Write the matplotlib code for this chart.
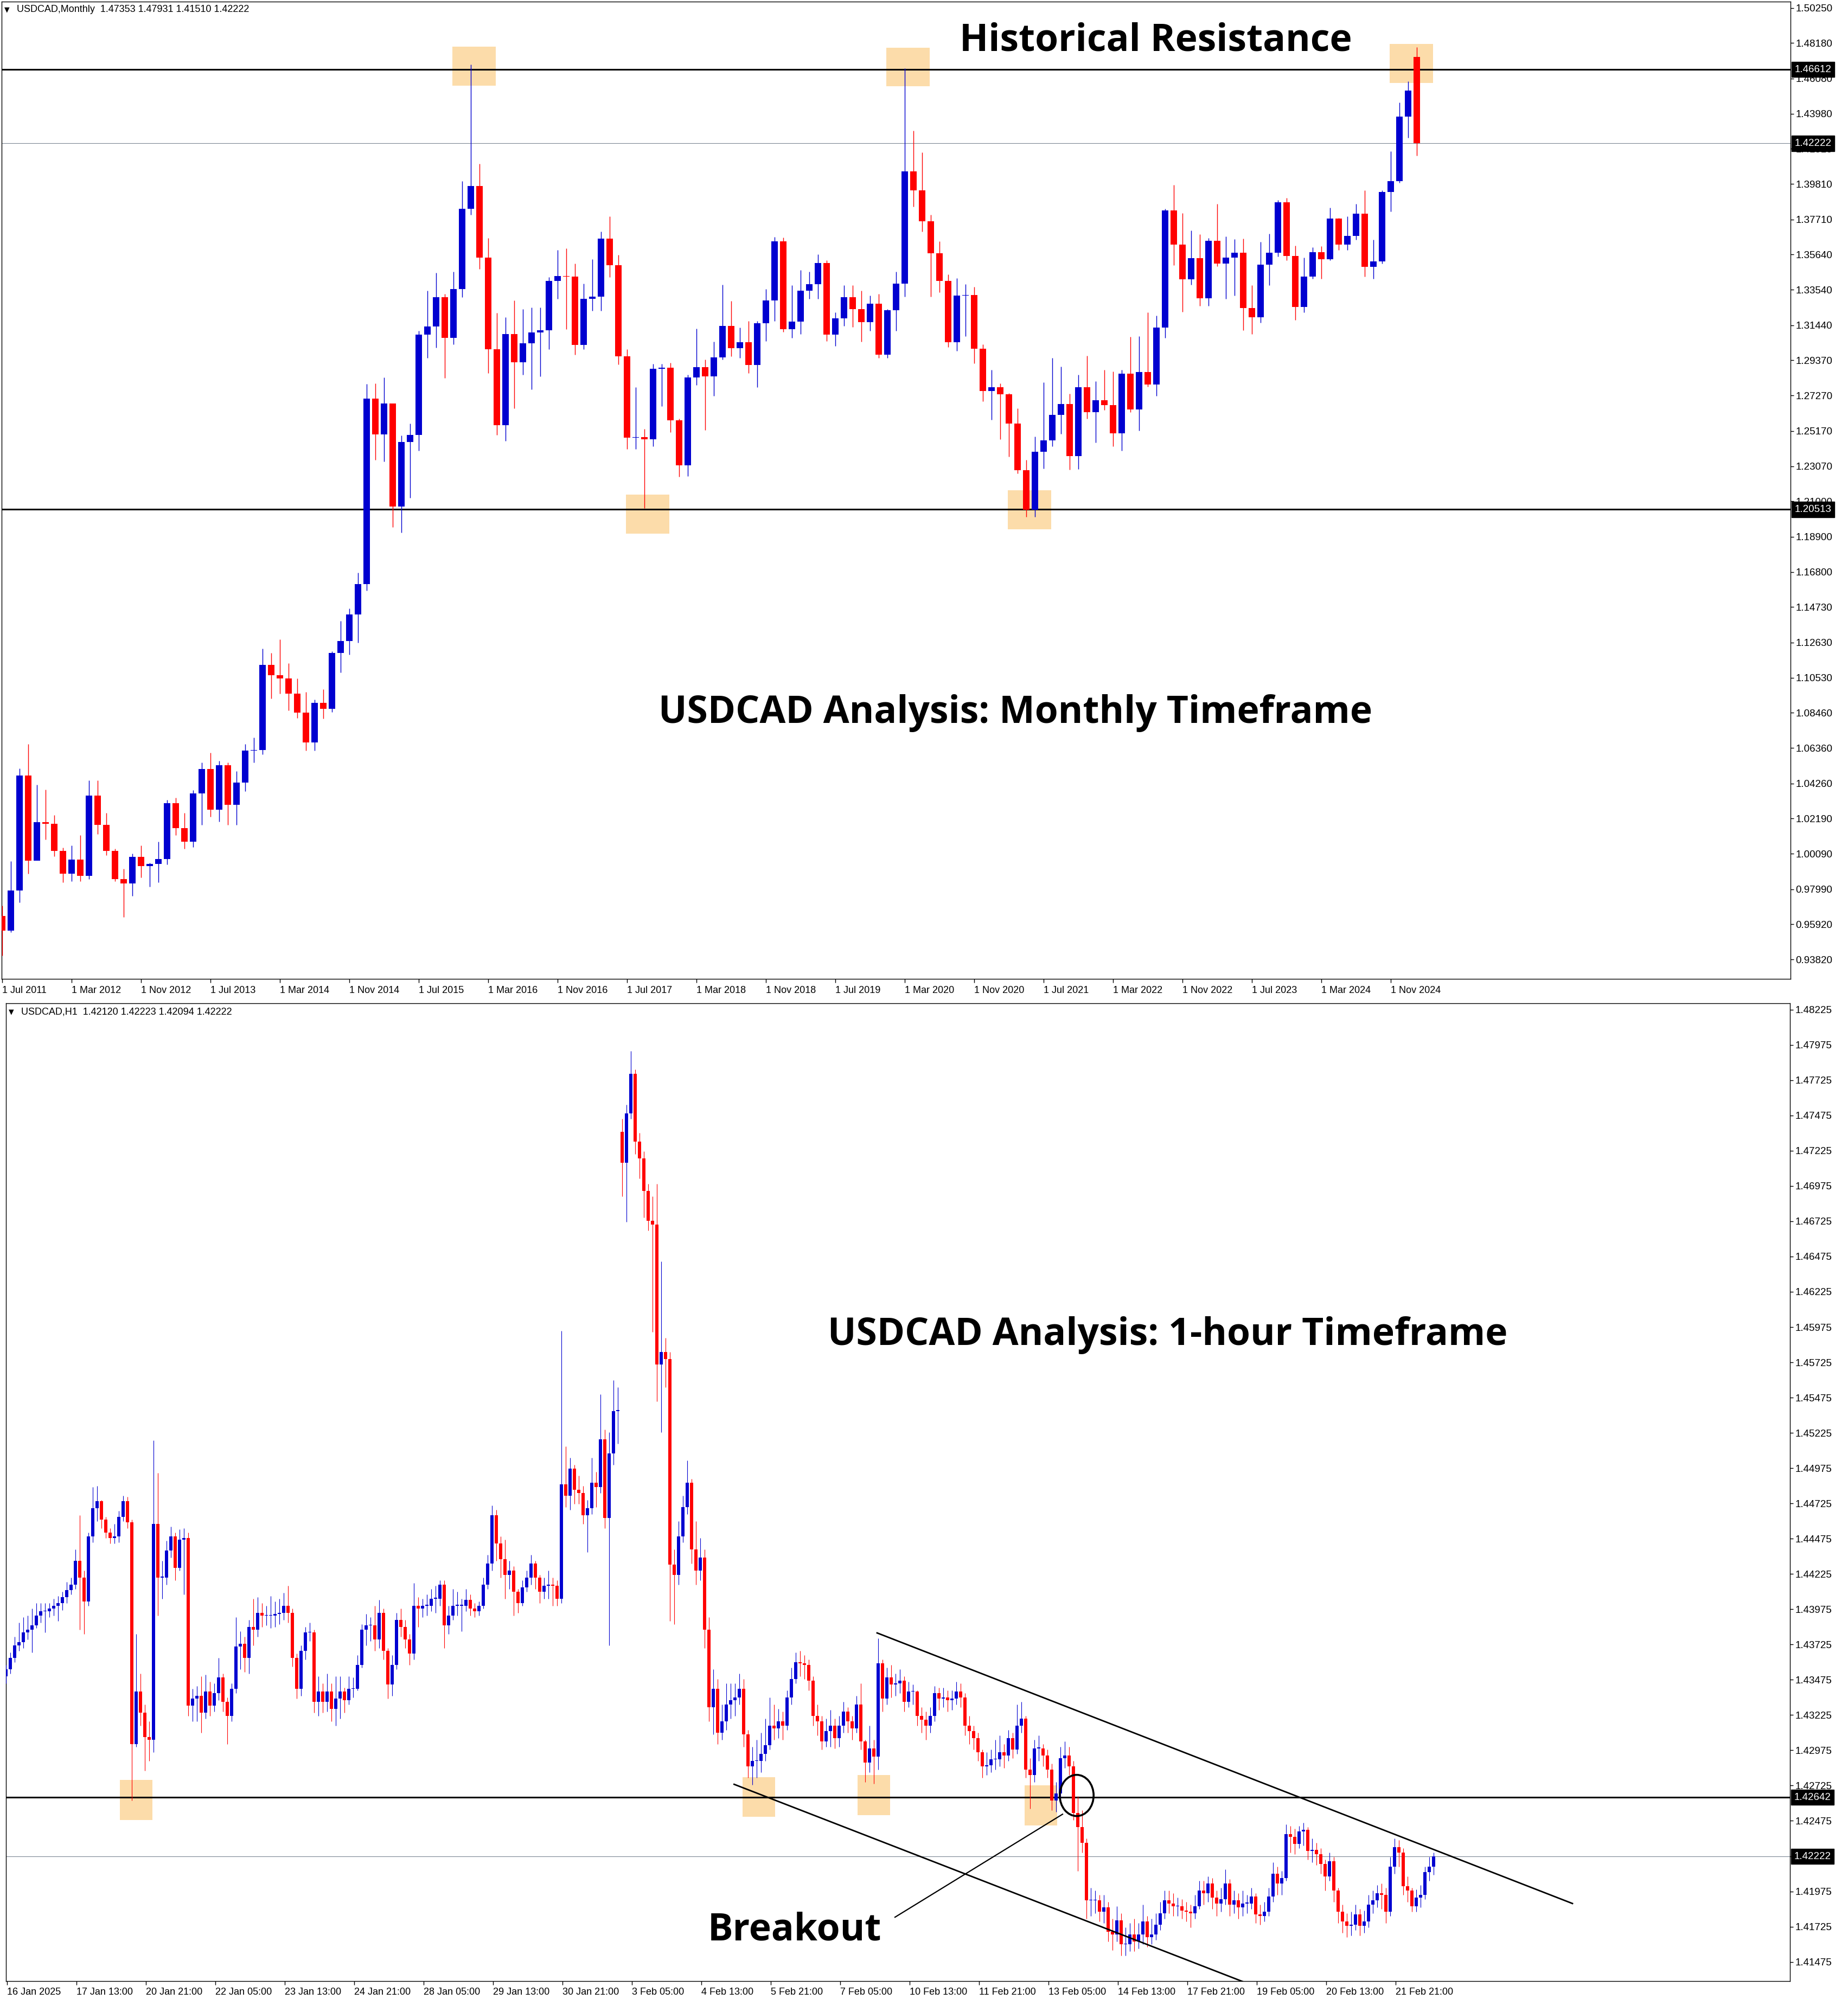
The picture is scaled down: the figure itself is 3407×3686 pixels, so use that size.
import numpy as np
import matplotlib
matplotlib.use('Agg')
import matplotlib.pyplot as plt
from matplotlib.patches import Rectangle, Ellipse

plt.rcParams['font.family'] = ['Liberation Sans', 'DejaVu Sans']

# ---------------- monthly USDCAD, Jul 2011 .. Feb 2025 ----------------
monthly_first_open = 0.9640
monthly_close = [
    0.9555, 0.9792, 1.0473, 0.9970, 1.0198, 1.0186, 1.0025, 0.9890, 0.9975, 0.9878,
    1.0355, 1.0180, 1.0025, 0.9860, 0.9832, 0.9990, 0.9935, 0.9950, 0.9978, 1.0310,
    1.0160, 1.0080, 1.0366, 1.0513, 1.0270, 1.0535, 1.0300, 1.0430, 1.0620, 1.0625,
    1.1130, 1.1070, 1.1050, 1.0960, 1.0845, 1.0670, 1.0905, 1.0870, 1.1200, 1.1270,
    1.1430, 1.1610, 1.2710, 1.2498, 1.2679, 1.2068, 1.2451, 1.2492, 1.3089, 1.3138,
    1.3309, 1.3069, 1.3358, 1.3834, 1.3969, 1.3545, 1.3001, 1.2550, 1.3091, 1.2923,
    1.3036, 1.3100, 1.3114, 1.3407, 1.3436, 1.3431, 1.3026, 1.3301, 1.3315, 1.3657,
    1.3500, 1.2960, 1.2476, 1.2482, 1.2468, 1.2886, 1.2892, 1.2581, 1.2314, 1.2833,
    1.2895, 1.2841, 1.2954, 1.3139, 1.3007, 1.3042, 1.2909, 1.3155, 1.3290, 1.3643,
    1.3122, 1.3167, 1.3350, 1.3387, 1.3514, 1.3087, 1.3186, 1.3309, 1.3241, 1.3161,
    1.3272, 1.2970, 1.3233, 1.3391, 1.4058, 1.3943, 1.3760, 1.3571, 1.3407, 1.3044,
    1.3319, 1.3323, 1.3005, 1.2755, 1.2775, 1.2734, 1.2560, 1.2283, 1.2051, 1.2394,
    1.2462, 1.2611, 1.2677, 1.2369, 1.2775, 1.2628, 1.2700, 1.2669, 1.2503, 1.2858,
    1.2646, 1.2868, 1.2792, 1.3130, 1.3826, 1.3621, 1.3415, 1.3541, 1.3305, 1.3645,
    1.3510, 1.3545, 1.3573, 1.3247, 1.3190, 1.3504, 1.3573, 1.3873, 1.3555, 1.3253,
    1.3432, 1.3576, 1.3534, 1.3777, 1.3623, 1.3674, 1.3805, 1.3489, 1.3522, 1.3934,
    1.4000, 1.4380, 1.4535, 1.42222]
monthly_high = [
    0.9700, 0.9965, 1.0515, 1.0660, 1.0420, 1.0390, 1.0240, 1.0045, 1.0060, 1.0120,
    1.0445, 1.0445, 1.0250, 1.0040, 0.9920, 1.0010, 1.0060, 0.9955, 1.0080, 1.0330,
    1.0340, 1.0250, 1.0385, 1.0550, 1.0610, 1.0560, 1.0550, 1.0500, 1.0660, 1.0700,
    1.1225, 1.1200, 1.1280, 1.1140, 1.1050, 1.0970, 1.0925, 1.0985, 1.1210, 1.1390,
    1.1465, 1.1675, 1.2795, 1.2800, 1.2835, 1.2680, 1.2490, 1.2560, 1.3110, 1.3350,
    1.3455, 1.3330, 1.3460, 1.3999, 1.4689, 1.4100, 1.3660, 1.3216, 1.3190, 1.3290,
    1.3240, 1.3250, 1.3250, 1.3430, 1.3590, 1.3600, 1.3510, 1.3390, 1.3534, 1.3700,
    1.3791, 1.3560, 1.3000, 1.2775, 1.2529, 1.2915, 1.2915, 1.2920, 1.2590, 1.2850,
    1.3124, 1.2940, 1.3046, 1.3385, 1.3288, 1.3130, 1.3170, 1.3170, 1.3360, 1.3666,
    1.3665, 1.3380, 1.3470, 1.3462, 1.3565, 1.3530, 1.3220, 1.3381, 1.3380, 1.3350,
    1.3320, 1.3330, 1.3240, 1.3463, 1.4667, 1.4298, 1.4170, 1.3800, 1.3643, 1.3446,
    1.3422, 1.3387, 1.3370, 1.3030, 1.2878, 1.2800, 1.2740, 1.2652, 1.2345, 1.2484,
    1.2806, 1.2950, 1.2899, 1.2738, 1.2850, 1.2964, 1.2812, 1.2880, 1.2870, 1.2880,
    1.3077, 1.3080, 1.3221, 1.3200, 1.3836, 1.3975, 1.3810, 1.3705, 1.3685, 1.3660,
    1.3863, 1.3670, 1.3655, 1.3658, 1.3381, 1.3637, 1.3688, 1.3887, 1.3898, 1.3617,
    1.3545, 1.3606, 1.3612, 1.3842, 1.3780, 1.3790, 1.3863, 1.3945, 1.3650, 1.3945,
    1.4176, 1.4466, 1.4591, 1.47931]
monthly_low = [
    0.9406, 0.9545, 0.9720, 0.9890, 0.9995, 1.0095, 0.9995, 0.9840, 0.9845, 0.9845,
    0.9860, 1.0125, 1.0000, 0.9845, 0.9635, 0.9760, 0.9870, 0.9815, 0.9840, 0.9945,
    1.0120, 1.0040, 1.0050, 1.0180, 1.0230, 1.0200, 1.0180, 1.0180, 1.0380, 1.0550,
    1.0600, 1.0930, 1.0960, 1.0860, 1.0815, 1.0620, 1.0620, 1.0810, 1.0850, 1.1085,
    1.1190, 1.1260, 1.1570, 1.2345, 1.2335, 1.1945, 1.1914, 1.2119, 1.2400, 1.2950,
    1.3011, 1.2831, 1.3030, 1.3310, 1.3800, 1.3477, 1.2860, 1.2492, 1.2458, 1.2652,
    1.2850, 1.2765, 1.2840, 1.3000, 1.3300, 1.3120, 1.2970, 1.3000, 1.3230, 1.3230,
    1.3430, 1.2910, 1.2410, 1.2410, 1.2058, 1.2427, 1.2663, 1.2509, 1.2246, 1.2250,
    1.2790, 1.2523, 1.2724, 1.2940, 1.2960, 1.2950, 1.2860, 1.2775, 1.3050, 1.3170,
    1.3105, 1.3070, 1.3090, 1.3300, 1.3300, 1.3050, 1.3020, 1.3140, 1.3135, 1.3045,
    1.3110, 1.2950, 1.2950, 1.3110, 1.3313, 1.3846, 1.3700, 1.3313, 1.3340, 1.3015,
    1.2991, 1.3079, 1.2919, 1.2693, 1.2585, 1.2468, 1.2365, 1.2265, 1.2007, 1.2007,
    1.2295, 1.2425, 1.2500, 1.2287, 1.2290, 1.2590, 1.2447, 1.2640, 1.2427, 1.2400,
    1.2630, 1.2519, 1.2780, 1.2724, 1.3070, 1.3500, 1.3223, 1.3385, 1.3260, 1.3260,
    1.3495, 1.3300, 1.3320, 1.3114, 1.3093, 1.3160, 1.3380, 1.3550, 1.3530, 1.3175,
    1.3220, 1.3420, 1.3420, 1.3530, 1.3590, 1.3590, 1.3650, 1.3432, 1.3420, 1.3510,
    1.3820, 1.3990, 1.4256, 1.41510]
monthly_gap_index = [163]
monthly_gap_open = [1.47353]
monthly_tick_labels = ['1 Jul 2011', '1 Mar 2012', '1 Nov 2012', '1 Jul 2013', '1 Mar 2014',
                       '1 Nov 2014', '1 Jul 2015', '1 Mar 2016', '1 Nov 2016', '1 Jul 2017',
                       '1 Mar 2018', '1 Nov 2018', '1 Jul 2019', '1 Mar 2020', '1 Nov 2020',
                       '1 Jul 2021', '1 Mar 2022', '1 Nov 2022', '1 Jul 2023', '1 Mar 2024',
                       '1 Nov 2024']
monthly_price_ticks = [1.50250, 1.48180, 1.46080, 1.43980, 1.41910, 1.39810, 1.37710,
                       1.35640, 1.33540, 1.31440, 1.29370, 1.27270, 1.25170, 1.23070,
                       1.21000, 1.18900, 1.16800, 1.14730, 1.12630, 1.10530, 1.08460,
                       1.06360, 1.04260, 1.02190, 1.00090, 0.97990, 0.95920, 0.93820]

# ---------------- USDCAD H1 (read as 2-hour bars), 16 Jan .. 24 Feb 2025 ----------------
h1_first_open = 1.4350
h1_close = [
    1.4355, 1.4363, 1.4372, 1.4374, 1.4381, 1.4383, 1.4386, 1.4393, 1.4396, 1.4396,
    1.4398, 1.4400, 1.4402, 1.4406, 1.4411, 1.4415, 1.4432, 1.4420, 1.4403, 1.4449,
    1.4469, 1.4474, 1.4461, 1.4452, 1.4448, 1.4449, 1.4463, 1.4474, 1.4459, 1.4302,
    1.4339, 1.4324, 1.4307, 1.4305, 1.4458, 1.4420, 1.4420, 1.4439, 1.4449, 1.4427,
    1.4447, 1.4448, 1.4329, 1.4334, 1.4336, 1.4324, 1.4339, 1.4329, 1.4338, 1.4349,
    1.4332, 1.4322, 1.4341, 1.4371, 1.4373, 1.4363, 1.4385, 1.4383, 1.4395, 1.4393,
    1.4393, 1.4393, 1.4394, 1.4395, 1.4400, 1.4395, 1.4363, 1.4341, 1.4368, 1.4381,
    1.4381, 1.4332, 1.4339, 1.4332, 1.4339, 1.4327, 1.4334, 1.4339, 1.4333, 1.4341,
    1.4341, 1.4358, 1.4383, 1.4386, 1.4386, 1.4376, 1.4395, 1.4368, 1.4344, 1.4358,
    1.4390, 1.4385, 1.4376, 1.4366, 1.4400, 1.4398, 1.4400, 1.4400, 1.4405, 1.4405,
    1.4415, 1.4386, 1.4393, 1.4400, 1.4400, 1.4400, 1.4404, 1.4398, 1.4396, 1.4400,
    1.4415, 1.4430, 1.4464, 1.4444, 1.4433, 1.4422, 1.4425, 1.4410, 1.4402, 1.4413,
    1.4420, 1.4430, 1.4420, 1.4410, 1.4414, 1.4415, 1.4414, 1.4405, 1.4486, 1.4478,
    1.4497, 1.4482, 1.4480, 1.4464, 1.4469, 1.4487, 1.4484, 1.4518, 1.4462, 1.4508,
    1.4538, 1.4538, 1.4714, 1.4749, 1.4777, 1.4729, 1.4717, 1.4694, 1.4673, 1.4670,
    1.4571, 1.4580, 1.4575, 1.4429, 1.4422, 1.4449, 1.4470, 1.4487, 1.4440, 1.4425,
    1.4434, 1.4383, 1.4328, 1.4341, 1.4310, 1.4318, 1.4330, 1.4333, 1.4335, 1.4341,
    1.4309, 1.4286, 1.4290, 1.4290, 1.4295, 1.4301, 1.4315, 1.4313, 1.4318, 1.4315,
    1.4335, 1.4348, 1.4360, 1.4359, 1.4358, 1.4347, 1.4322, 1.4318, 1.4304, 1.4311,
    1.4315, 1.4306, 1.4315, 1.4325, 1.4318, 1.4313, 1.4330, 1.4304, 1.4289, 1.4299,
    1.4293, 1.4359, 1.4334, 1.4349, 1.4344, 1.4345, 1.4347, 1.4332, 1.4339, 1.4339,
    1.4322, 1.4319, 1.4315, 1.4322, 1.4338, 1.4334, 1.4335, 1.4333, 1.4334, 1.4339,
    1.4335, 1.4315, 1.4311, 1.4306, 1.4296, 1.4286, 1.4287, 1.4291, 1.4291, 1.4296,
    1.4294, 1.4306, 1.4298, 1.4315, 1.4320, 1.4284, 1.4280, 1.4299, 1.4299, 1.4294,
    1.4284, 1.4262, 1.4267, 1.4292, 1.4294, 1.4286, 1.4253, 1.4243, 1.4232, 1.4191,
    1.4191, 1.4191, 1.4183, 1.4186, 1.4169, 1.4167, 1.4177, 1.4160, 1.4160, 1.4167,
    1.4162, 1.4167, 1.4176, 1.4165, 1.4167, 1.4174, 1.4182, 1.4191, 1.4189, 1.4187,
    1.4187, 1.4184, 1.4183, 1.4182, 1.4187, 1.4198, 1.4196, 1.4203, 1.4193, 1.4189,
    1.4192, 1.4203, 1.4188, 1.4191, 1.4186, 1.4189, 1.4189, 1.4194, 1.4181, 1.4180,
    1.4183, 1.4194, 1.4210, 1.4203, 1.4207, 1.4238, 1.4236, 1.4231, 1.4240, 1.4241,
    1.4226, 1.4227, 1.4224, 1.4217, 1.4208, 1.4219, 1.4198, 1.4183, 1.4176, 1.4173,
    1.4174, 1.4181, 1.4173, 1.4176, 1.4188, 1.4191, 1.4196, 1.4195, 1.4183, 1.4215,
    1.4229, 1.4225, 1.4201, 1.4198, 1.4187, 1.4193, 1.4195, 1.4211, 1.4215, 1.42222]
h1_high = [
    1.4358, 1.4367, 1.4378, 1.4388, 1.4392, 1.4393, 1.4398, 1.4402, 1.4402, 1.4402,
    1.4402, 1.4405, 1.4407, 1.4410, 1.4417, 1.4420, 1.4440, 1.4464, 1.4425, 1.4452,
    1.4484, 1.4485, 1.4475, 1.4463, 1.4455, 1.4458, 1.4467, 1.4478, 1.4477, 1.4461,
    1.4380, 1.4352, 1.4330, 1.4318, 1.4517, 1.4494, 1.4432, 1.4446, 1.4456, 1.4452,
    1.4454, 1.4455, 1.4452, 1.4341, 1.4343, 1.4350, 1.4351, 1.4346, 1.4345, 1.4363,
    1.4352, 1.4335, 1.4345, 1.4392, 1.4382, 1.4378, 1.4390, 1.4405, 1.4406, 1.4402,
    1.4400, 1.4407, 1.4403, 1.4405, 1.4409, 1.4414, 1.4398, 1.4366, 1.4372, 1.4385,
    1.4388, 1.4383, 1.4350, 1.4345, 1.4352, 1.4345, 1.4350, 1.4350, 1.4342, 1.4350,
    1.4349, 1.4365, 1.4387, 1.4394, 1.4392, 1.4400, 1.4404, 1.4398, 1.4370, 1.4365,
    1.4395, 1.4398, 1.4390, 1.4380, 1.4416, 1.4406, 1.4405, 1.4408, 1.4412, 1.4414,
    1.4418, 1.4418, 1.4400, 1.4412, 1.4410, 1.4405, 1.4412, 1.4408, 1.4402, 1.4403,
    1.4420, 1.4436, 1.4471, 1.4468, 1.4449, 1.4447, 1.4432, 1.4428, 1.4412, 1.4418,
    1.4425, 1.4436, 1.4432, 1.4422, 1.4420, 1.4425, 1.4420, 1.4418, 1.4595, 1.4513,
    1.4505, 1.4500, 1.4492, 1.4485, 1.4475, 1.4505, 1.4495, 1.4550, 1.4525, 1.4523,
    1.4560, 1.4555, 1.4745, 1.4755, 1.4793, 1.4780, 1.4735, 1.4722, 1.4699, 1.4690,
    1.4699, 1.4644, 1.4590, 1.4580, 1.4440, 1.4460, 1.4478, 1.4503, 1.4490, 1.4460,
    1.4448, 1.4440, 1.4392, 1.4355, 1.4348, 1.4330, 1.4345, 1.4345, 1.4345, 1.4352,
    1.4348, 1.4312, 1.4300, 1.4305, 1.4310, 1.4320, 1.4335, 1.4330, 1.4327, 1.4325,
    1.4340, 1.4356, 1.4367, 1.4368, 1.4365, 1.4362, 1.4350, 1.4330, 1.4322, 1.4320,
    1.4326, 1.4320, 1.4322, 1.4332, 1.4328, 1.4322, 1.4336, 1.4345, 1.4305, 1.4315,
    1.4305, 1.4377, 1.4362, 1.4356, 1.4358, 1.4352, 1.4355, 1.4350, 1.4346, 1.4344,
    1.4340, 1.4328, 1.4325, 1.4328, 1.4343, 1.4342, 1.4342, 1.4340, 1.4340, 1.4346,
    1.4345, 1.4338, 1.4322, 1.4315, 1.4310, 1.4298, 1.4296, 1.4298, 1.4305, 1.4308,
    1.4302, 1.4312, 1.4310, 1.4330, 1.4332, 1.4322, 1.4292, 1.4305, 1.4308, 1.4302,
    1.4298, 1.4288, 1.4275, 1.4300, 1.4304, 1.4300, 1.4290, 1.4265, 1.4255, 1.4235,
    1.4200, 1.4198, 1.4195, 1.4195, 1.4190, 1.4178, 1.4187, 1.4182, 1.4172, 1.4175,
    1.4178, 1.4175, 1.4188, 1.4180, 1.4178, 1.4182, 1.4190, 1.4198, 1.4198, 1.4196,
    1.4193, 1.4192, 1.4190, 1.4188, 1.4195, 1.4205, 1.4205, 1.4208, 1.4207, 1.4198,
    1.4200, 1.4213, 1.4206, 1.4198, 1.4196, 1.4198, 1.4195, 1.4200, 1.4196, 1.4188,
    1.4190, 1.4200, 1.4218, 1.4215, 1.4212, 1.4245, 1.4244, 1.4242, 1.4244, 1.4246,
    1.4243, 1.4235, 1.4232, 1.4228, 1.4220, 1.4225, 1.4222, 1.4200, 1.4188, 1.4182,
    1.4183, 1.4188, 1.4185, 1.4184, 1.4195, 1.4198, 1.4202, 1.4203, 1.4200, 1.4222,
    1.4235, 1.4234, 1.4228, 1.4208, 1.4200, 1.4199, 1.4202, 1.4215, 1.4222, 1.42251]
h1_low = [
    1.4345, 1.4352, 1.4360, 1.4368, 1.4370, 1.4376, 1.4367, 1.4384, 1.4388, 1.4381,
    1.4392, 1.4393, 1.4389, 1.4397, 1.4402, 1.4408, 1.4412, 1.4383, 1.4380, 1.4400,
    1.4445, 1.4460, 1.4455, 1.4448, 1.4444, 1.4444, 1.4445, 1.4460, 1.4455, 1.4262,
    1.4300, 1.4315, 1.4283, 1.4290, 1.4296, 1.4393, 1.4405, 1.4415, 1.4434, 1.4418,
    1.4425, 1.4408, 1.4322, 1.4318, 1.4318, 1.4310, 1.4320, 1.4322, 1.4325, 1.4333,
    1.4325, 1.4302, 1.4318, 1.4338, 1.4355, 1.4353, 1.4352, 1.4372, 1.4378, 1.4385,
    1.4386, 1.4384, 1.4385, 1.4387, 1.4390, 1.4388, 1.4357, 1.4334, 1.4336, 1.4362,
    1.4375, 1.4324, 1.4322, 1.4324, 1.4325, 1.4318, 1.4315, 1.4320, 1.4324, 1.4330,
    1.4335, 1.4340, 1.4356, 1.4372, 1.4375, 1.4368, 1.4370, 1.4362, 1.4334, 1.4336,
    1.4355, 1.4378, 1.4370, 1.4358, 1.4362, 1.4385, 1.4392, 1.4393, 1.4396, 1.4395,
    1.4400, 1.4370, 1.4380, 1.4390, 1.4393, 1.4382, 1.4396, 1.4393, 1.4392, 1.4393,
    1.4398, 1.4412, 1.4425, 1.4432, 1.4420, 1.4405, 1.4412, 1.4393, 1.4395, 1.4400,
    1.4410, 1.4415, 1.4412, 1.4402, 1.4405, 1.4405, 1.4400, 1.4400, 1.4402, 1.4470,
    1.4468, 1.4472, 1.4472, 1.4458, 1.4438, 1.4465, 1.4470, 1.4480, 1.4455, 1.4372,
    1.4500, 1.4515, 1.4690, 1.4672, 1.4745, 1.4720, 1.4703, 1.4675, 1.4666, 1.4594,
    1.4545, 1.4523, 1.4555, 1.4389, 1.4387, 1.4415, 1.4445, 1.4465, 1.4430, 1.4415,
    1.4418, 1.4370, 1.4318, 1.4309, 1.4302, 1.4305, 1.4312, 1.4320, 1.4322, 1.4330,
    1.4300, 1.4278, 1.4273, 1.4278, 1.4282, 1.4290, 1.4298, 1.4305, 1.4306, 1.4305,
    1.4312, 1.4330, 1.4345, 1.4350, 1.4348, 1.4340, 1.4315, 1.4308, 1.4298, 1.4300,
    1.4300, 1.4299, 1.4300, 1.4310, 1.4310, 1.4305, 1.4310, 1.4298, 1.4275, 1.4282,
    1.4274, 1.4284, 1.4325, 1.4330, 1.4335, 1.4336, 1.4338, 1.4325, 1.4328, 1.4330,
    1.4315, 1.4310, 1.4305, 1.4310, 1.4318, 1.4326, 1.4328, 1.4325, 1.4326, 1.4330,
    1.4328, 1.4308, 1.4302, 1.4298, 1.4290, 1.4278, 1.4280, 1.4282, 1.4284, 1.4286,
    1.4285, 1.4290, 1.4292, 1.4295, 1.4310, 1.4278, 1.4256, 1.4275, 1.4290, 1.4286,
    1.4278, 1.4255, 1.4254, 1.4262, 1.4285, 1.4280, 1.4248, 1.4212, 1.4225, 1.4178,
    1.4180, 1.4182, 1.4176, 1.4175, 1.4162, 1.4156, 1.4162, 1.4152, 1.4152, 1.4155,
    1.4155, 1.4157, 1.4160, 1.4158, 1.4160, 1.4163, 1.4170, 1.4178, 1.4182, 1.4180,
    1.4180, 1.4178, 1.4176, 1.4172, 1.4178, 1.4185, 1.4188, 1.4190, 1.4185, 1.4180,
    1.4183, 1.4188, 1.4180, 1.4182, 1.4178, 1.4180, 1.4182, 1.4185, 1.4175, 1.4174,
    1.4176, 1.4180, 1.4190, 1.4195, 1.4195, 1.4205, 1.4225, 1.4224, 1.4228, 1.4230,
    1.4220, 1.4218, 1.4216, 1.4210, 1.4198, 1.4205, 1.4190, 1.4175, 1.4168, 1.4165,
    1.4166, 1.4170, 1.4166, 1.4168, 1.4172, 1.4182, 1.4186, 1.4185, 1.4175, 1.4180,
    1.4210, 1.4215, 1.4195, 1.4190, 1.4183, 1.4183, 1.4186, 1.4192, 1.4205, 1.42094]
h1_gap_index = [142]
h1_gap_open = [1.4736]
h1_tick_labels = ['16 Jan 2025', '17 Jan 13:00', '20 Jan 21:00', '22 Jan 05:00', '23 Jan 13:00',
                  '24 Jan 21:00', '28 Jan 05:00', '29 Jan 13:00', '30 Jan 21:00', '3 Feb 05:00',
                  '4 Feb 13:00', '5 Feb 21:00', '7 Feb 05:00', '10 Feb 13:00', '11 Feb 21:00',
                  '13 Feb 05:00', '14 Feb 13:00', '17 Feb 21:00', '19 Feb 05:00', '20 Feb 13:00',
                  '21 Feb 21:00']
h1_price_ticks = [round(1.41475 + 0.0025 * i, 5) for i in range(28)]

# key levels and markings
monthly_resistance = 1.46612
monthly_support = 1.20513
h1_level = 1.42642
last_price = 1.42222
# highlight boxes: centre month / centre price
monthly_box_month = [54.4, 104.4, 74.4, 118.4, 162.4]
monthly_box_price = [1.4680, 1.4676, 1.2024, 1.2050, 1.4697]
# highlight boxes on H1: centre hour / centre price
h1_box_hour = [59.5, 346.5, 399.5, 476.5]
h1_box_price = [1.42623, 1.42644, 1.42657, 1.42585]
# channel lines on H1 (hour, price)
upper_line = [(401.0, 1.43807), (721.5, 1.41889)]
lower_line = [(335.1, 1.42734), (575.0, 1.41303)]
pointer_line = [(409.25, 1.41792), (486.5, 1.42522)]
circle_at = (493.0, 1.42655)

BLUE = '#0000d0'
RED = '#ff0000'
BOX = '#fcdcaa'
PRICE_LINE = '#7d8894'

W, H = 3407, 3686


def build_opens(first_open, closes, gap_index, gap_open):
    # open of each bar is the previous close, except where the chart gapped
    opens = [first_open] + list(closes[:-1])
    for i, o in zip(gap_index, gap_open):
        opens[i] = o
    return np.array(opens)


def draw_candles(ax, x, opens, highs, lows, closes, width, wick_lw, min_body):
    closes = np.array(closes)
    up = closes >= opens
    colors = np.where(up, BLUE, RED)
    ax.vlines(x, lows, highs, colors=colors, linewidth=wick_lw, zorder=3)
    bottom = np.minimum(opens, closes)
    height = np.maximum(np.abs(closes - opens), min_body)
    ax.bar(x, height, width, bottom=bottom, color=colors, linewidth=0, zorder=4)


def price_tag(ax, y, text):
    ax.text(1.0022, y, text, transform=ax.get_yaxis_transform(), ha='left', va='center',
            color='white', fontsize=13.5, zorder=10, clip_on=False,
            bbox=dict(boxstyle='square,pad=0.3', fc='black', ec='black'))


def px_axes(fig, left, top, right, bottom):
    return fig.add_axes([left / W, 1 - bottom / H, (right - left) / W, (bottom - top) / H])


def style_axes(ax, price_ticks, xticks, xlabels):
    ax.yaxis.tick_right()
    ax.set_yticks(price_ticks)
    ax.set_yticklabels(['%.5f' % p for p in price_ticks])
    ax.tick_params(axis='y', length=4, width=1, pad=3, labelsize=13.5, direction='out')
    ax.set_xticks(xticks)
    ax.set_xticklabels(xlabels)
    for lbl in ax.get_xticklabels():
        lbl.set_ha('left')
    ax.tick_params(axis='x', length=5, width=1, pad=4, labelsize=13, direction='out')
    for s in ax.spines.values():
        s.set_linewidth(1.0)
        s.set_color('black')


fig = plt.figure(figsize=(W / 100, H / 100), dpi=100)
fig.patch.set_facecolor('white')

# ---------------- monthly panel ----------------
ax1 = px_axes(fig, 3, 3, 3301, 1805)
m_x = np.arange(len(monthly_close))
m_open = build_opens(monthly_first_open, monthly_close, monthly_gap_index, monthly_gap_open)
draw_candles(ax1, m_x, m_open, monthly_high, monthly_low, monthly_close, 0.70, 1.0, 0.0004)
for cx, cy in zip(monthly_box_month, monthly_box_price):
    ax1.add_patch(Rectangle((cx - 2.5, cy - 0.0115), 5.0, 0.0230, fc=BOX, ec='none', zorder=1))
ax1.axhline(monthly_resistance, color='black', lw=2.2, zorder=2)
ax1.axhline(monthly_support, color='black', lw=2.2, zorder=2)
ax1.axhline(last_price, color=PRICE_LINE, lw=0.8, zorder=2)
ax1.set_xlim(-0.0625, 206.06)
ax1.set_ylim(0.92672, 1.50633)
style_axes(ax1, monthly_price_ticks, list(range(0, 161, 8)), monthly_tick_labels)
price_tag(ax1, monthly_resistance, '1.46612')
price_tag(ax1, last_price, '1.42222')
price_tag(ax1, monthly_support, '1.20513')

# ---------------- H1 panel ----------------
ax2 = px_axes(fig, 11, 1850, 3300, 3653)
h_x = 2 * np.arange(len(h1_close)) - 0.5
h_open = build_opens(h1_first_open, h1_close, h1_gap_index, h1_gap_open)
draw_candles(ax2, h_x, h_open, h1_high, h1_low, h1_close, 1.3, 0.8, 0.00005)
for cx, cy in zip(h1_box_hour, h1_box_price):
    ax2.add_patch(Rectangle((cx - 7.5, cy - 0.00142), 15.0, 0.00284, fc=BOX, ec='none', zorder=1))
ax2.axhline(h1_level, color='black', lw=2.2, zorder=2)
ax2.axhline(last_price, color=PRICE_LINE, lw=0.8, zorder=2)
for line, lw in ((upper_line, 2.0), (lower_line, 2.0), (pointer_line, 1.6)):
    ax2.plot([line[0][0], line[1][0]], [line[0][1], line[1][1]], color='black', lw=lw, zorder=5)
ax2.add_patch(Ellipse(circle_at, 15.6, 0.00292, fill=False, ec='black', lw=2.6, zorder=6))
ax2.set_xlim(-0.5, 821.75)
ax2.set_ylim(1.41339, 1.48270)
style_axes(ax2, h1_price_ticks, list(range(0, 641, 32)), h1_tick_labels)
price_tag(ax2, h1_level, '1.42642')
price_tag(ax2, last_price, '1.42222')

# ---------------- header lines and captions ----------------
hdr = dict(fontsize=13, va='center', ha='left', family=['Liberation Sans', 'DejaVu Sans'])
fig.text(8 / W, 1 - 18 / H, '\u25bc', fontsize=9, va='center', ha='left', family='DejaVu Sans')
fig.text(31 / W, 1 - 18 / H, 'USDCAD,Monthly  1.47353 1.47931 1.41510 1.42222', **hdr)
fig.text(16 / W, 1 - 1866 / H, '\u25bc', fontsize=9, va='center', ha='left', family='DejaVu Sans')
fig.text(39 / W, 1 - 1866 / H, 'USDCAD,H1  1.42120 1.42223 1.42094 1.42222', **hdr)

cap = dict(fontsize=50, fontweight='bold', ha='center', va='baseline',
           family=['Open Sans', 'DejaVu Sans'])
fig.text(2131 / W, 1 - 94 / H, 'Historical Resistance', **cap)
fig.text(1872 / W, 1 - 1333 / H, 'USDCAD Analysis: Monthly Timeframe', **cap)
fig.text(2153 / W, 1 - 2480 / H, 'USDCAD Analysis: 1-hour Timeframe', **cap)
fig.text(1465 / W, 1 - 3577 / H, 'Breakout', **cap)

fig.savefig('out.png', dpi=100, facecolor='white')
